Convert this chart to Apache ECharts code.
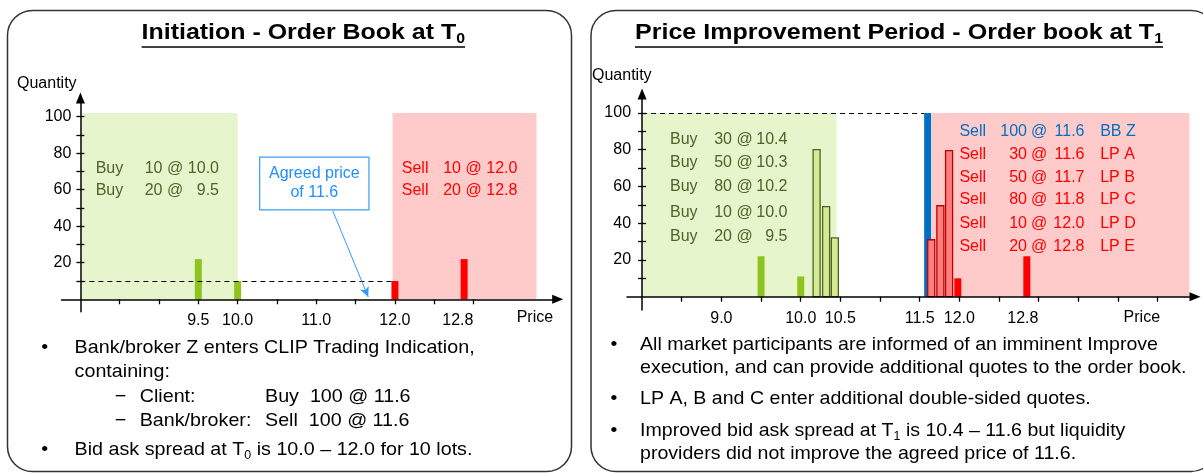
<!DOCTYPE html>
<html><head><meta charset="utf-8"><title>CLIP order book</title>
<script src="https://cdn.jsdelivr.net/npm/echarts@6.0.0/dist/echarts.min.js"></script>
<style>html,body{margin:0;padding:0;background:#fff;overflow:hidden}#chart{width:1203px;height:473px}</style>
</head><body><div id="chart"></div>
<script>
// ---------------- data ----------------
const qtyTicks = [10, 20, 30, 40, 50, 60, 70, 80, 90, 100];
const qtyLabels = [20, 40, 60, 80, 100];

// Order book at T0
const t0PriceTicks = [8.5, 9, 9.5, 10, 10.5, 11, 11.5, 12, 12.5, 13];
const t0PriceLabels = [9.5, 10.0, 11.0, 12.0, 12.8];
const t0BuyPrice = [9.5, 10.0];
const t0BuyQty = [22, 10];
const t0SellPrice = [12.0, 12.88];
const t0SellQty = [10, 22];
const t0BuyZone = [8.02, 10.0, 102];
const t0SellZone = [11.97, 13.8, 102];
const t0AgreedPrice = 11.6;
const t0BestLevel = 10;
const t0BuyOrders = [['Buy', '10', '10.0'], ['Buy', '20', '9.5']];
const t0SellOrders = [['Sell', '10', '12.0'], ['Sell', '20', '12.8']];

// Order book at T1
const t1PriceTicks = [8.5, 9, 9.5, 10, 10.5, 11, 11.5, 12, 12.5, 13, 13.5, 14, 14.5];
const t1PriceLabels = [9.0, 10.0, 10.5, 11.5, 12.0, 12.8];
const t1BuyPrice = [9.5, 10.0];
const t1BuyQty = [22, 11];
const t1NewBidPrice = [10.2, 10.32, 10.43];
const t1NewBidQty = [80, 49, 32];
const t1BrokerPrice = [11.6];
const t1BrokerQty = [100];
const t1NewAskPrice = [11.645, 11.76, 11.87];
const t1NewAskQty = [31, 49.5, 79.5];
const t1SellPrice = [11.98, 12.85];
const t1SellQty = [10, 22];
const t1BuyZone = [8.0, 10.45, 100];
const t1SellZone = [11.65, 14.9, 100];
const t1BuyOrders = [['Buy', '30', '10.4'], ['Buy', '50', '10.3'], ['Buy', '80', '10.2'], ['Buy', '10', '10.0'], ['Buy', '20', '9.5']];
const t1SellOrders = [['Sell', '100', '11.6', 'BB Z'], ['Sell', '30', '11.6', 'LP A'], ['Sell', '50', '11.7', 'LP B'],
  ['Sell', '80', '11.8', 'LP C'], ['Sell', '10', '12.0', 'LP D'], ['Sell', '20', '12.8', 'LP E']];

// texts
const t0Title = ['Initiation - Order Book at T', {sub: '0'}];
const t1Title = ['Price Improvement Period - Order book at T', {sub: '1'}];
const t0Notes = [
  {bullet: true, parts: ['Bank/broker Z enters CLIP Trading Indication,']},
  {parts: ['containing:']},
  {dash: true, label: 'Client:', value: 'Buy  100 @ 11.6'},
  {dash: true, label: 'Bank/broker:', value: 'Sell  100 @ 11.6'},
  {bullet: true, parts: ['Bid ask spread at T', {sub: '0'}, ' is 10.0 \u2013 12.0 for 10 lots.']}
];
const t1Notes = [
  {bullet: true, parts: ['All market participants are informed of an imminent Improve']},
  {parts: ['execution, and can provide additional quotes to the order book.']},
  {bullet: true, parts: ['LP A, B and C enter additional double-sided quotes.']},
  {bullet: true, parts: ['Improved bid ask spread at T', {sub: '1'}, ' is 10.4 \u2013 11.6 but liquidity']},
  {parts: ['providers did not improve the agreed price of 11.6.']}
];

// ---------------- styling ----------------
const FAMILY = '"Liberation Sans", Arial, Helvetica, sans-serif';
const C = {
  buy: '#8fc31f', buyNew: '#d4eb8f', buyNewEdge: '#4f6228', buyText: '#4f6228',
  sell: '#ff0000', sellNew: '#ff7f7f', sellNewEdge: '#c00000',
  broker: '#0070c0', buyZone: '#e6f5cc', sellZone: '#ffcaca',
  note: '#1f8fff', noteEdge: '#3aa0f0'
};

const ctx = document.createElement('canvas').getContext('2d');
function tw(s, size, weight) { ctx.font = (weight || 'normal') + ' ' + size + 'px ' + FAMILY; return ctx.measureText(s).width; }
function T(x, y, s, o) {
  o = o || {};
  return {type: 'text', x: x, y: y, scaleX: o.sx || 1, silent: true, z: 50,
    style: {text: s, fill: o.color || '#000', fontSize: o.size || 16, fontWeight: o.weight || 'normal',
      fontFamily: FAMILY, align: o.align || 'left', verticalAlign: 'middle'}};
}
function lineWidth(parts, o) {
  let w = 0;
  for (const p of parts) {
    if (typeof p === 'string') w += tw(p, o.size, o.weight);
    else w += tw(p.sub, Math.round(o.size * 0.62), o.weight);
  }
  return w;
}
function runLine(x, y, parts, o) {
  const out = []; let cx = x; const sx = o.sx || 1;
  for (const p of parts) {
    if (typeof p === 'string') { out.push(T(cx, y, p, o)); cx += tw(p, o.size, o.weight) * sx; }
    else {
      const ss = Math.round(o.size * 0.62);
      out.push(T(cx, y + o.size * 0.32, p.sub, Object.assign({}, o, {size: ss})));
      cx += tw(p.sub, ss, o.weight) * sx;
    }
  }
  return out;
}

const graphics = [];
// panels
graphics.push({type: 'rect', silent: true, z: 0, shape: {x: 7.5, y: 10.5, width: 564, height: 461, r: 25},
  style: {fill: 'none', stroke: '#333', lineWidth: 1.5}});
graphics.push({type: 'rect', silent: true, z: 0, shape: {x: 591, y: 10.5, width: 625, height: 461, r: 25},
  style: {fill: 'none', stroke: '#333', lineWidth: 1.5}});

// titles
function title(parts, x0, x1) {
  const o = {size: 22, weight: 'bold'};
  o.sx = (x1 - x0) / lineWidth(parts, o);
  graphics.push(...runLine(x0, 32.5, parts, o));
  graphics.push({type: 'line', silent: true, z: 50, shape: {x1: x0, y1: 47, x2: x1, y2: 47}, style: {stroke: '#000', lineWidth: 1.6}});
}
title(t0Title, 141.6, 465);
title(t1Title, 635, 1163);

// axis names
graphics.push(T(17, 84, 'Quantity', {size: 16}));
graphics.push(T(516.7, 318, 'Price', {size: 16}));
graphics.push(T(592, 76, 'Quantity', {size: 16}));
graphics.push(T(1123.6, 318, 'Price', {size: 16}));

// order texts
function orders(rows, ys, cols, color) {
  rows.forEach((r, i) => {
    const y = ys[i]; const col = Array.isArray(color) ? color[i] : color;
    graphics.push(T(cols[0], y, r[0], {color: col}));
    graphics.push(T(cols[1], y, r[1], {color: col, align: 'right'}));
    graphics.push(T(cols[2], y, '@', {color: col}));
    graphics.push(T(cols[3], y, r[2], {color: col, align: 'right'}));
    if (r[3]) graphics.push(T(cols[4], y, r[3], {color: col}));
  });
}
orders(t0BuyOrders, [169, 191], [95.7, 162.5, 167, 219], C.buyText);
orders(t0SellOrders, [169, 191], [401.8, 461, 465.5, 517.4], C.sell);
orders(t1BuyOrders, [139.3, 162.7, 186.7, 212.7, 236.7], [670, 732, 736.5, 787.4], C.buyText);
orders(t1SellOrders, [131.7, 154.3, 177.7, 200, 223.3, 246.7], [959.4, 1027, 1031, 1084.5, 1100.2],
  [C.broker, C.sell, C.sell, C.sell, C.sell, C.sell]);

// notes
function notes(list, ys, bx, tx, dashX, labelX, valueX, target) {
  const o = {size: 19};
  o.sx = target / lineWidth(list[0].parts, o);
  list.forEach((n, i) => {
    const y = ys[i];
    if (n.bullet) graphics.push(T(bx, y, '\u2022', Object.assign({}, o, {align: 'center'})));
    if (n.dash) {
      graphics.push(T(dashX, y, '\u2212', o));
      graphics.push(T(labelX, y, n.label, o));
      graphics.push(T(valueX, y, n.value, o));
    } else {
      graphics.push(...runLine(tx, y, n.parts, o));
    }
  });
}
notes(t0Notes, [347.5, 371.5, 396.5, 420.5, 450], 44.8, 74.6, 114.8, 139.7, 265, 400);
notes(t1Notes, [345, 368, 399, 431, 454], 614, 640, 0, 0, 0, 518);

// ---------------- chart ----------------
function xAx(gi, min, max, ticks, labels, margin) {
  return {type: 'value', gridIndex: gi, position: 'bottom', min: min, max: max, z: 10, splitLine: {show: false},
    axisLine: {show: true, onZero: true, symbol: ['none', 'triangle'], symbolSize: [9, 11], lineStyle: {color: '#000', width: 1.5}},
    axisTick: {show: true, customValues: ticks, length: 5, lineStyle: {color: '#000', width: 1.3}},
    axisLabel: {show: true, customValues: labels, formatter: v => Number(v).toFixed(1), margin: margin,
      fontSize: 16, color: '#000', fontFamily: FAMILY}};
}
function yAxes(gi, min, max, offset, margin) {
  const base = {type: 'value', gridIndex: gi, position: 'left', min: min, max: max, offset: offset, z: 10, splitLine: {show: false}};
  return [
    Object.assign({}, base, {
      axisLine: {show: true, onZero: false, symbol: ['none', 'triangle'], symbolSize: [9, 11], lineStyle: {color: '#000', width: 1.5}},
      axisTick: {show: true, customValues: qtyTicks, length: 4, lineStyle: {color: '#000', width: 1.3}},
      axisLabel: {show: true, customValues: qtyLabels, margin: margin, fontSize: 16, color: '#000', fontFamily: FAMILY}}),
    Object.assign({}, base, {
      axisLine: {show: false, onZero: false},
      axisTick: {show: true, inside: true, customValues: qtyTicks, length: 4, lineStyle: {color: '#000', width: 1.3}},
      axisLabel: {show: false}})
  ];
}
function bars(gi, prices, qty, fill, stroke, width) {
  return {type: 'custom', xAxisIndex: gi, yAxisIndex: gi * 2, z: 3, silent: true,
    data: prices.map((p, i) => [p, qty[i]]),
    renderItem: function (params, api) {
      const p = api.coord([api.value(0), api.value(1)]);
      const b = api.coord([api.value(0), 0]);
      return {type: 'rect', shape: {x: p[0] - width / 2, y: p[1], width: width, height: b[1] - p[1]},
        style: {fill: fill, stroke: stroke || null, lineWidth: stroke ? 1.3 : 0}};
    }};
}
function carrier(gi, extra) {
  return Object.assign({type: 'custom', xAxisIndex: gi, yAxisIndex: gi * 2, data: [], silent: true,
    renderItem: function () { return null; }}, extra);
}
function zone(z, color) {
  return [{xAxis: z[0], yAxis: 0, itemStyle: {color: color}}, {xAxis: z[1], yAxis: z[2]}];
}

const option = {
  animation: false,
  backgroundColor: '#fff',
  textStyle: {fontFamily: FAMILY},
  grid: [
    {left: 61.5, top: 98, width: 496.2, height: 213.7, outerBoundsMode: 'none'},
    {left: 627, top: 94, width: 568, height: 216, outerBoundsMode: 'none'}
  ],
  xAxis: [
    xAx(0, 7.76, 14.07, t0PriceTicks, t0PriceLabels, 1),
    xAx(1, 7.81, 14.97, t1PriceTicks, t1PriceLabels, 1)
  ],
  yAxis: [].concat(yAxes(0, -6.8, 110.2, -18.9, 9), yAxes(1, -7.24, 110.3, -15.07, 11)),
  series: [
    carrier(0, {z: 1, markArea: {silent: true, data: [zone(t0BuyZone, C.buyZone), zone(t0SellZone, C.sellZone)]}}),
    bars(0, t0BuyPrice, t0BuyQty, C.buy, null, 7),
    bars(0, t0SellPrice, t0SellQty, C.sell, null, 7),
    carrier(0, {markLine: {silent: true, symbol: ['none', 'none'], label: {show: false},
      lineStyle: {color: '#000', type: [5, 4], width: 1.2},
      data: [[{coord: [8, t0BestLevel]}, {coord: [12.0, t0BestLevel]}]]}}),
    carrier(0, {markLine: {silent: true, symbol: ['none', 'arrow'], symbolSize: [7, 10], label: {show: false},
      lineStyle: {color: '#3399ff', type: 'solid', width: 1},
      data: [[{coord: [11.21, 48.4]}, {coord: [t0AgreedPrice + 0.06, 1.3]}]]},
      markArea: {silent: true, itemStyle: {color: '#fff', borderColor: C.noteEdge, borderWidth: 1.2},
        label: {show: true, position: 'inside', color: C.note, fontSize: 16, lineHeight: 19, fontFamily: FAMILY,
          formatter: 'Agreed price\nof ' + t0AgreedPrice.toFixed(1)},
        data: [[{xAxis: 10.28, yAxis: 48.9}, {xAxis: 11.67, yAxis: 77.8}]]}}),

    carrier(1, {z: 1, markArea: {silent: true, data: [zone(t1BuyZone, C.buyZone), zone(t1SellZone, C.sellZone)]}}),
    bars(1, t1BuyPrice, t1BuyQty, C.buy, null, 7),
    bars(1, t1NewBidPrice, t1NewBidQty, C.buyNew, C.buyNewEdge, 7),
    bars(1, t1BrokerPrice, t1BrokerQty, C.broker, null, 7),
    bars(1, t1NewAskPrice, t1NewAskQty, C.sellNew, C.sellNewEdge, 7),
    bars(1, t1SellPrice, t1SellQty, C.sell, null, 7),
    carrier(1, {markLine: {silent: true, symbol: ['none', 'none'], label: {show: false},
      lineStyle: {color: '#000', type: [5, 4], width: 1.2},
      data: [[{coord: [8, t1BrokerQty[0]]}, {coord: [t1BrokerPrice[0] - 0.045, t1BrokerQty[0]]}]]}})
  ],
  graphic: {elements: graphics}
};

const chart = echarts.init(document.getElementById('chart'));
chart.setOption(option);
</script></body></html>
